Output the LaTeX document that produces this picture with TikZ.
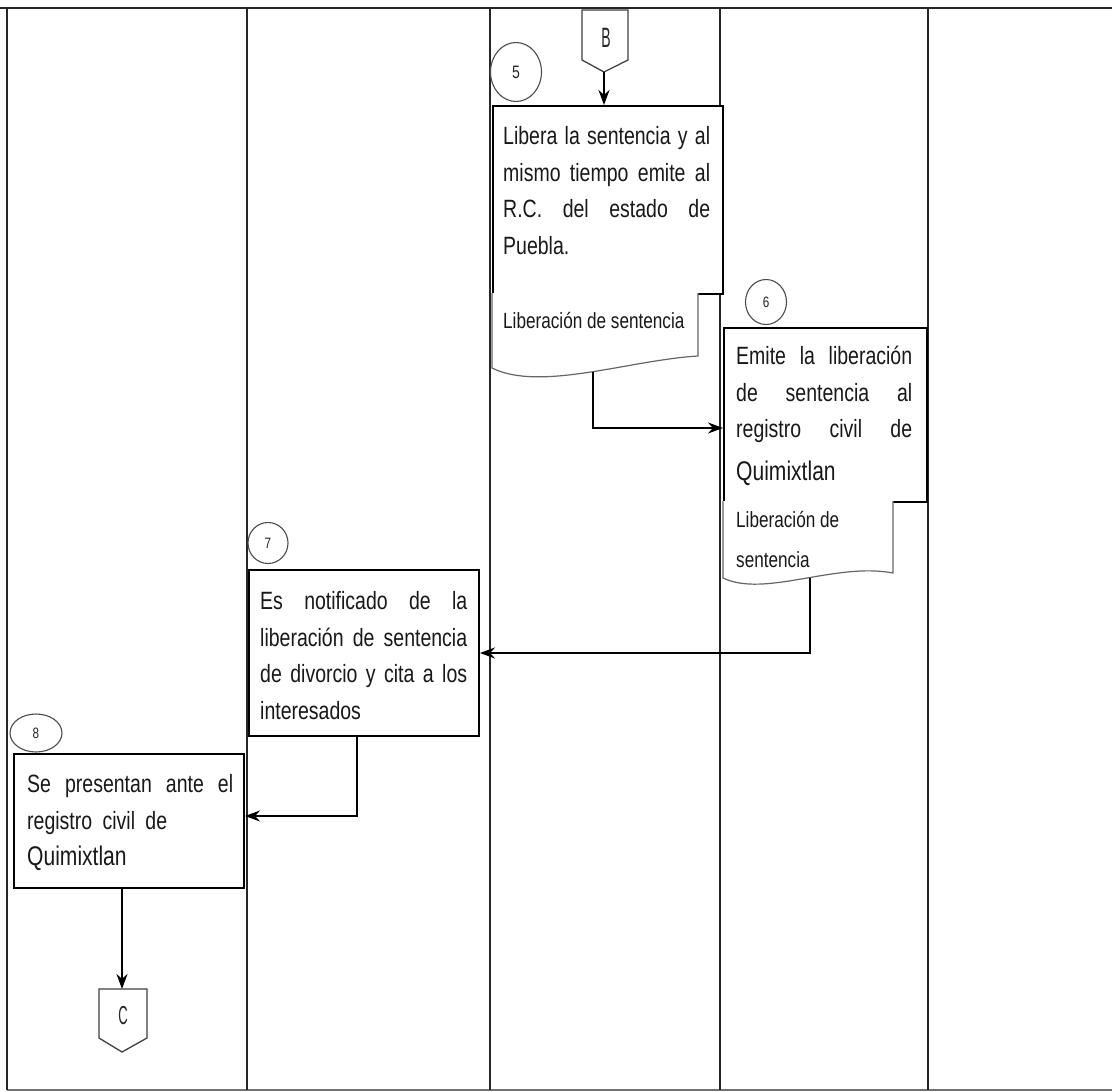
\documentclass[tikz,border=0pt]{standalone}
\usepackage{fontspec}
\setmainfont{Liberation Sans}[FakeStretch=0.78]
\newfontfamily\tallfont{Liberation Sans}[FakeStretch=0.5]
\usetikzlibrary{arrows.meta,shapes.geometric}
\newcommand{\jline}[2]{\makebox[#1][s]{#2}}
\begin{document}
\begin{tikzpicture}[x=1pt,y=-1pt,
 lane/.style={draw=black!85,line width=1.4pt},
 procbox/.style={rectangle,draw=black,line width=2pt,fill=white,inner sep=0pt,anchor=north west},
 docedge/.style={draw=black!60,line width=1.2pt},
 numcirc/.style={ellipse,draw=black!70,line width=1.1pt,fill=white,inner sep=0pt,text=black!85},
 offpage/.style={draw=black!75,line width=1.3pt,fill=white},
 flow/.style={draw=black,line width=1.7pt,-{Stealth[length=15pt,width=11pt]}},
 boxtext/.style={inner sep=0pt,anchor=north west,align=left,text=black!90,font=\fontsize{25}{36.5}\selectfont},
 doctext/.style={inner sep=0pt,text=black!90,font=\fontsize{22}{40}\selectfont},
]
\useasboundingbox (0,0) rectangle (1112,1092);
\fill[white] (0,0) rectangle (1112,1092);

% swimlane grid
\draw[lane,line width=2.4pt] (0,8) -- (1112,8);
\draw[lane,draw=black!55] (7,1090) -- (1112,1090);
\foreach \xx in {7,247,490,720,928} \draw[lane] (\xx,8) -- (\xx,1090);

% step 5
\node[procbox,minimum width=230pt,minimum height=188pt] (b5) at (492,105) {};
\fill[white] (492,293) -- (698,293) -- (698,356) .. controls (630,360) and (540,392) .. (492,368) -- cycle;
\draw[docedge] (698,293) -- (698,356) .. controls (630,360) and (540,392) .. (492,368) -- (492,293);
\coordinate (d5out) at (593,372);
\node[boxtext] (t5) at (503,119) {\strut\jline{207pt}{Libera la sentencia  y al}\\
 \strut\jline{207pt}{mismo tiempo emite al}\\
 \strut\jline{207pt}{R.C. del estado de}\\
 \strut Puebla.};
\node[doctext,anchor=base west] (dt5) at (503,328) {Liberación de sentencia};
\node[numcirc,minimum width=51pt,minimum height=59pt,font=\fontsize{18}{18}\selectfont] (c5) at (516,72) {5};

% off-page connector B
\draw[offpage] (582,10) -- (628,10) -- (628,60) -- (604,72) -- (582,60) -- cycle;
\node[font=\tallfont\fontsize{28}{28}\selectfont,text=black!85] (labB) at (606,38) {B};
\coordinate (conBtip) at (604,72);

% step 6
\node[procbox,minimum width=203pt,minimum height=174pt] (b6) at (723,327) {};
\fill[white] (723,501) -- (893,501) -- (893,573) .. controls (835,562) and (765,598) .. (723,578) -- cycle;
\draw[docedge] (893,501) -- (893,573) .. controls (835,562) and (765,598) .. (723,578) -- (723,501);
\coordinate (d6out) at (810,578);
\node[boxtext] (t6) at (736,339) {\strut\jline{176pt}{Emite la liberación}\\
 \strut\jline{176pt}{de sentencia al}\\
 \strut\jline{176pt}{registro civil de}\\[6pt]
 {\fontsize{27}{36.5}\selectfont\strut Quimixtlan}};
\node[doctext,anchor=north west,align=left] (dt6) at (736,499) {\strut Liberación de\\ \strut sentencia};
\node[numcirc,minimum width=41pt,minimum height=45pt,font=\fontsize{15}{15}\selectfont] (c6) at (766,302) {6};

% step 7
\node[procbox,minimum width=230pt,minimum height=166pt] (b7) at (248,569) {};
\node[boxtext] (t7) at (260,584) {\strut\jline{207pt}{Es notificado  de la}\\
 \strut\jline{207pt}{liberación de sentencia}\\
 \strut\jline{207pt}{de divorcio y cita  a los}\\
 \strut interesados};
\node[numcirc,minimum width=40pt,minimum height=41pt,font=\fontsize{15}{15}\selectfont] (c7) at (268,543) {7};

% step 8
\node[procbox,minimum width=230pt,minimum height=134pt] (b8) at (13,753) {};
\node[boxtext] (t8) at (27,767) {\strut\jline{206pt}{Se presentan ante el}\\
 \strut\jline{140pt}{registro civil de}\\
 {\fontsize{27}{36.5}\selectfont\strut Quimixtlan}};
\node[numcirc,minimum width=52pt,minimum height=38pt,font=\fontsize{15}{15}\selectfont] (c8) at (36,733) {8};

% off-page connector C
\draw[offpage] (99,989) -- (147,989) -- (147,1038) -- (122,1052) -- (99,1038) -- cycle;
\node[font=\tallfont\fontsize{26}{26}\selectfont,text=black!85] (labC) at (123,1016) {C};
\coordinate (conCtop) at (122,989);

% flows
\draw[flow] (conBtip) -- (b5.north -| conBtip);
\draw[flow] (d5out) |- (b6.west |- 0,428);
\draw[flow] (d6out) |- (b7.east);
\draw[flow] (b7.south -| 357,0) |- (b8.east |- 0,816);
\draw[flow] (b8.south -| conCtop) -- (conCtop);
\end{tikzpicture}
\end{document}
